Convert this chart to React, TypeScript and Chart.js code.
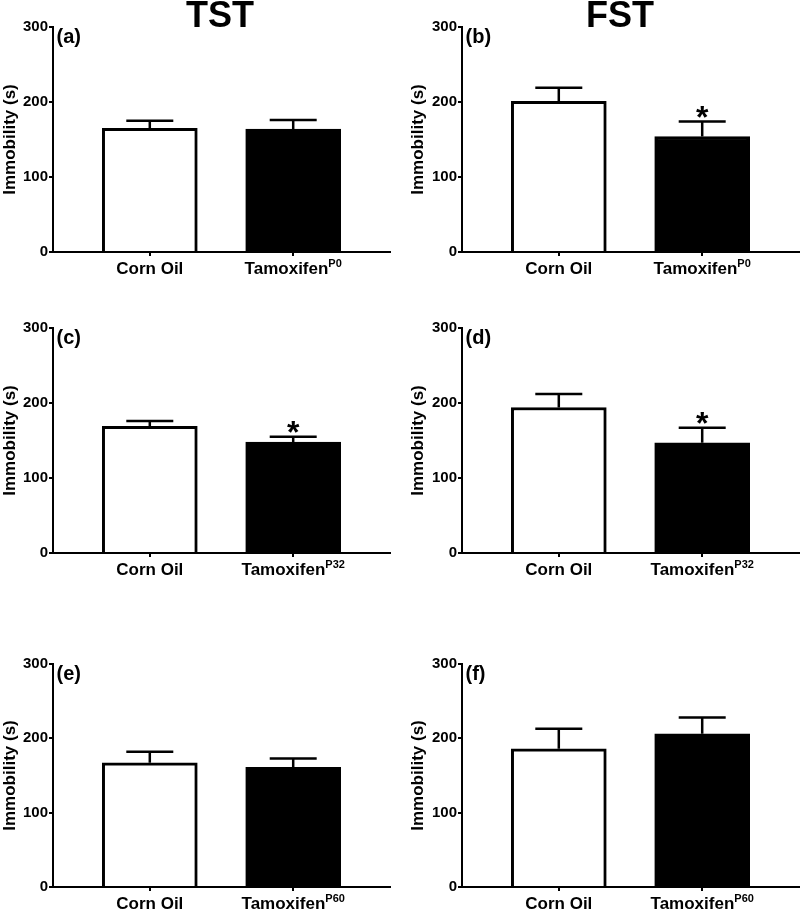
import React, { useEffect, useRef } from 'react';
import { Chart, registerables } from 'chart.js';

Chart.register(...registerables);

const FONT = '"Liberation Sans", Arial, Helvetica, sans-serif';

// ---- data ----
const groups = ['Corn Oil', 'Tamoxifen'];
const testTitles = ['TST', 'FST'];
const panelLetters = ['(a)', '(b)', '(c)', '(d)', '(e)', '(f)'];
const tamoxifenAges = ['P0', 'P0', 'P32', 'P32', 'P60', 'P60'];
const yTicks = [0, 100, 200, 300];
const yTitle = 'Immobility (s)';

const tstP0Mean = [165, 164];
const tstP0Sem = [10, 12];
const tstP0Sig = [false, false];

const fstP0Mean = [201, 154];
const fstP0Sem = [18, 20];
const fstP0Sig = [false, true];

const tstP32Mean = [169, 148];
const tstP32Sem = [7, 7];
const tstP32Sig = [false, true];

const fstP32Mean = [194, 147];
const fstP32Sem = [18, 20];
const fstP32Sig = [false, true];

const tstP60Mean = [167, 161];
const tstP60Sem = [15, 12];
const tstP60Sig = [false, false];

const fstP60Mean = [186, 206];
const fstP60Sem = [27, 22];
const fstP60Sig = [false, false];

const panelMeans = [tstP0Mean, fstP0Mean, tstP32Mean, fstP32Mean, tstP60Mean, fstP60Mean];
const panelSems = [tstP0Sem, fstP0Sem, tstP32Sem, fstP32Sem, tstP60Sem, fstP60Sem];
const panelSigs = [tstP0Sig, fstP0Sig, tstP32Sig, fstP32Sig, tstP60Sig, fstP60Sig];

// ---- layout ----
const rowLayout = [
  { top: 0, height: 300, plotTop: 27, plotBottom: 252 },
  { top: 300, height: 300, plotTop: 28, plotBottom: 253 },
  { top: 600, height: 310, plotTop: 64, plotBottom: 287 },
];
const colLayout = [
  { left: 0, width: 400, padL: 0, axisW: 53, padR: 10 },
  { left: 400, width: 400, padL: 8, axisW: 54, padR: 1 },
];

type PanelProps = { index: number };

function Panel({ index }: PanelProps) {
  const ref = useRef<HTMLCanvasElement | null>(null);
  const row = Math.floor(index / 2);
  const col = index % 2;
  const R = rowLayout[row];
  const C = colLayout[col];

  useEffect(() => {
    if (!ref.current) return;
    const mean = panelMeans[index];
    const sem = panelSems[index];
    const sig = panelSigs[index];
    const sup = tamoxifenAges[index];

    const overlay = {
      id: 'overlay' + index,
      afterDatasetsDraw(chart: any) {
        const { ctx, chartArea } = chart;
        const y = chart.scales.y;
        const x = chart.scales.x;
        ctx.save();
        ctx.fillStyle = '#000';
        ctx.strokeStyle = '#000';
        // error bars + significance
        const meta = chart.getDatasetMeta(0);
        meta.data.forEach((bar: any, i: number) => {
          const cx = bar.x;
          const yTop = y.getPixelForValue(mean[i]);
          const yErr = y.getPixelForValue(mean[i] + sem[i]);
          ctx.lineWidth = 2.5;
          ctx.beginPath();
          ctx.moveTo(cx, yTop);
          ctx.lineTo(cx, yErr);
          ctx.moveTo(cx - 23.5, yErr);
          ctx.lineTo(cx + 23.5, yErr);
          ctx.stroke();
          if (sig[i]) {
            ctx.font = `bold 32px ${FONT}`;
            ctx.textAlign = 'center';
            ctx.textBaseline = 'alphabetic';
            ctx.fillText('*', cx, yErr + 6.5);
          }
        });
        // x labels with superscript
        const base = chartArea.bottom + 21.5;
        groups.forEach((g, i) => {
          const cx = x.getPixelForValue(i);
          const s = i === 1 ? sup : '';
          ctx.font = `bold 17px ${FONT}`;
          const wMain = ctx.measureText(g).width;
          ctx.font = `bold 11px ${FONT}`;
          const wSup = s ? ctx.measureText(s).width : 0;
          const start = cx - (wMain + wSup) / 2;
          ctx.textAlign = 'left';
          ctx.textBaseline = 'alphabetic';
          ctx.font = `bold 17px ${FONT}`;
          ctx.fillText(g, start, base);
          if (s) {
            ctx.font = `bold 11px ${FONT}`;
            ctx.fillText(s, start + wMain, base - 6.5);
          }
        });
        // panel letter
        ctx.font = `bold 20px ${FONT}`;
        ctx.textAlign = 'left';
        ctx.textBaseline = 'alphabetic';
        ctx.fillText(panelLetters[index], chartArea.left + 3.5, chartArea.top + 15.6);
        // column title
        if (row === 0) {
          ctx.font = `bold 36px ${FONT}`;
          ctx.textAlign = 'center';
          ctx.fillText(testTitles[col], 220, 27);
        }
        ctx.restore();
      },
    };

    const chart = new Chart(ref.current, {
      type: 'bar',
      data: {
        datasets: [
          {
            data: groups.map((_, i) => ({ x: i, y: mean[i] })),
            backgroundColor: ['#ffffff', '#000000'],
            borderColor: '#000000',
            borderWidth: 3,
            borderSkipped: 'start',
            barThickness: 95,
          } as any,
        ],
      },
      options: {
        responsive: false,
        animation: false,
        events: [],
        layout: { padding: { left: C.padL, right: C.padR, top: R.plotTop, bottom: 0 } },
        plugins: { legend: { display: false }, tooltip: { enabled: false }, title: { display: false } },
        scales: {
          x: {
            type: 'linear',
            min: -0.675,
            max: 1.675,
            offset: false,
            afterBuildTicks: (axis: any) => {
              axis.ticks = groups.map((_, i) => ({ value: i }));
            },
            ticks: { display: false },
            grid: {
              display: true,
              drawOnChartArea: false,
              drawTicks: true,
              tickLength: 4,
              color: '#000',
              lineWidth: 2,
              offset: false,
            },
            border: { display: true, color: '#000', width: 2 },
            afterFit: (axis: any) => {
              axis.height = R.height - R.plotBottom;
            },
          } as any,
          y: {
            type: 'linear',
            min: 0,
            max: 300,
            afterBuildTicks: (axis: any) => {
              axis.ticks = yTicks.map((v) => ({ value: v }));
            },
            ticks: { color: '#000', font: { family: FONT, size: 15, weight: 'bold' }, padding: 1 },
            grid: {
              display: true,
              drawOnChartArea: false,
              drawTicks: true,
              tickLength: 4,
              color: '#000',
              lineWidth: 2,
            },
            border: { display: true, color: '#000', width: 2 },
            title: {
              display: true,
              text: yTitle,
              color: '#000',
              font: { family: FONT, size: 17, weight: 'bold', lineHeight: 1.2 },
              padding: { top: 0, bottom: 0 },
            },
            afterFit: (axis: any) => {
              axis.width = C.axisW;
            },
          } as any,
        },
      },
      plugins: [overlay],
    });
    return () => chart.destroy();
  }, [index]);

  return (
    <canvas
      ref={ref}
      width={C.width}
      height={R.height}
      style={{ position: 'absolute', left: C.left, top: R.top, width: C.width, height: R.height }}
    />
  );
}

export default function App() {
  return (
    <div style={{ position: 'absolute', left: 0, top: 0, width: 800, height: 910, background: '#fff', overflow: 'hidden' }}>
      {[0, 1, 2, 3, 4, 5].map((i) => (
        <Panel key={i} index={i} />
      ))}
    </div>
  );
}
